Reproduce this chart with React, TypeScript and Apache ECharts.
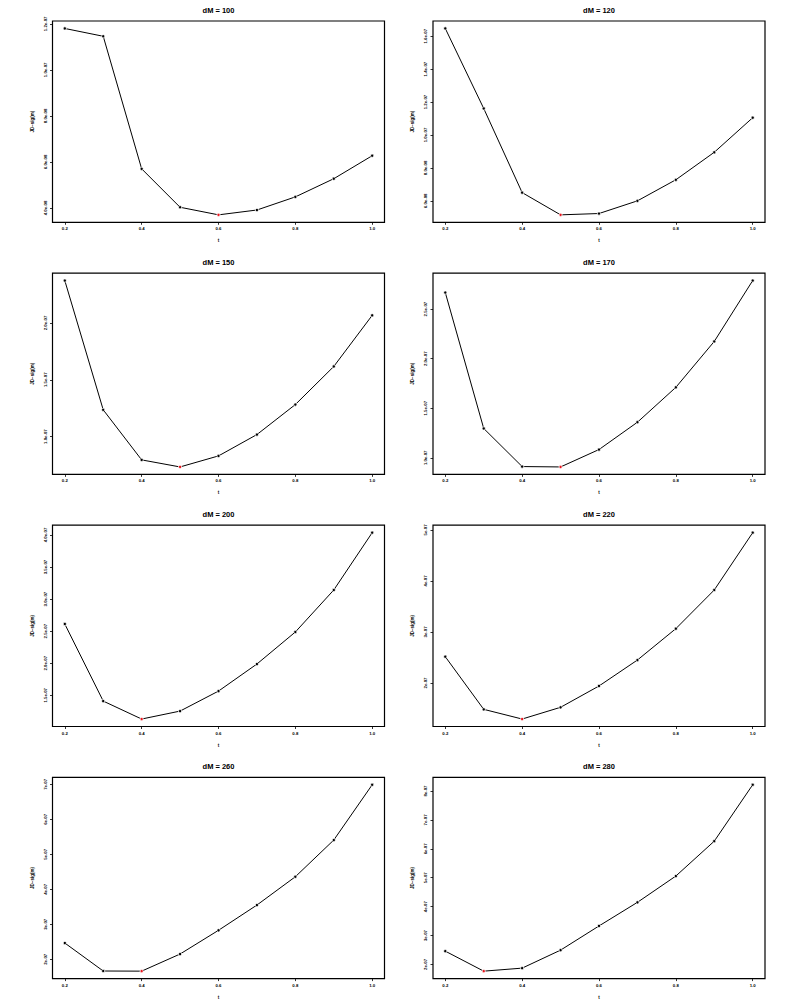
import React, { useEffect, useRef } from "react";
import * as echarts from "echarts";

// ---- data ----
const X_VALUES = [0.2, 0.3, 0.4, 0.5, 0.6, 0.7, 0.8, 0.9, 1.0];
const X_TICKS = [0.2, 0.4, 0.6, 0.8, 1.0];
const DM_VALUES = [100, 120, 150, 170, 200, 220, 260, 280];

const JD_100 = [1.18e-7, 1.146e-7, 5.70e-8, 4.03e-8, 3.70e-8, 3.91e-8, 4.48e-8, 5.27e-8, 6.27e-8];
const JD_120 = [1.647e-7, 1.161e-7, 6.50e-8, 5.15e-8, 5.23e-8, 6.0e-8, 7.28e-8, 8.95e-8, 1.105e-7];
const JD_150 = [2.373e-7, 1.2355e-7, 7.95e-8, 7.33e-8, 8.30e-8, 1.018e-7, 1.282e-7, 1.617e-7, 2.067e-7];
const JD_170 = [2.667e-7, 1.296e-7, 9.12e-8, 9.08e-8, 1.0835e-7, 1.359e-7, 1.711e-7, 2.174e-7, 2.788e-7];
const JD_200 = [2.612e-7, 1.41e-7, 1.13e-7, 1.254e-7, 1.566e-7, 1.988e-7, 2.487e-7, 3.142e-7, 4.036e-7];
const JD_220 = [2.515e-7, 1.483e-7, 1.293e-7, 1.523e-7, 1.941e-7, 2.45e-7, 3.065e-7, 3.823e-7, 4.947e-7];
const JD_260 = [2.466e-7, 1.666e-7, 1.662e-7, 2.151e-7, 2.829e-7, 3.551e-7, 4.36e-7, 5.409e-7, 6.989e-7];
const JD_280 = [2.46e-7, 1.768e-7, 1.872e-7, 2.495e-7, 3.332e-7, 4.149e-7, 5.059e-7, 6.266e-7, 8.218e-7];

const YT_100 = ["4.0e-08", "6.0e-08", "8.0e-08", "1.0e-07", "1.2e-07"];
const YT_120 = ["6.0e-08", "8.0e-08", "1.0e-07", "1.2e-07", "1.4e-07", "1.6e-07"];
const YT_150 = ["1.0e-07", "1.5e-07", "2.0e-07"];
const YT_170 = ["1.0e-07", "1.5e-07", "2.0e-07", "2.5e-07"];
const YT_200 = ["1.5e-07", "2.0e-07", "2.5e-07", "3.0e-07", "3.5e-07", "4.0e-07"];
const YT_220 = ["2e-07", "3e-07", "4e-07", "5e-07"];
const YT_260 = ["2e-07", "3e-07", "4e-07", "5e-07", "6e-07", "7e-07"];
const YT_280 = ["2e-07", "3e-07", "4e-07", "5e-07", "6e-07", "7e-07", "8e-07"];

const SERIES = [JD_100, JD_120, JD_150, JD_170, JD_200, JD_220, JD_260, JD_280];
const YTICKS = [YT_100, YT_120, YT_150, YT_170, YT_200, YT_220, YT_260, YT_280];

const Y_NAME = "JD\u2212sig(m)";
const X_NAME = "t";

export default function App() {
  const ref = useRef<HTMLDivElement>(null);
  useEffect(() => {
    if (!ref.current) return;
    const chart = echarts.init(ref.current, null, { renderer: "svg" });
    const FONT = "Liberation Sans";
    const colLeft = [52.5, 433];
    const boxW = 332;
    const boxH = 201.3;
    const rowTop = (r: number) => 21 + r * 252.1;

    const grids: any[] = [];
    const xAxes: any[] = [];
    const yAxes: any[] = [];
    const series: any[] = [];
    const titles: any[] = [];

    SERIES.forEach((ys, i) => {
      const col = i % 2;
      const row = Math.floor(i / 2);
      const left = colLeft[col];
      const top = rowTop(row);
      grids.push({
        left,
        top,
        width: boxW,
        height: boxH,
        show: true,
        borderColor: "#000",
        borderWidth: 1.2,
        backgroundColor: "transparent",
      });
      titles.push({
        text: `dM = ${DM_VALUES[i]}`,
        left: left + boxW / 2,
        top: top - 14.5,
        textAlign: "center",
        textStyle: { fontFamily: FONT, fontSize: 7.5, fontWeight: "bold", color: "#000", lineHeight: 8 },
        padding: 0,
      });
      xAxes.push({
        type: "value",
        gridIndex: i,
        min: (e: any) => e.min - 0.04 * (e.max - e.min),
        max: (e: any) => e.max + 0.04 * (e.max - e.min),
        name: X_NAME,
        nameLocation: "middle",
        nameGap: 16,
        nameTextStyle: { fontFamily: FONT, fontSize: 4.5, color: "#000", fontWeight: "bold" },
        axisLine: { show: false },
        splitLine: { show: false },
        axisTick: {
          show: true,
          length: 2.5,
          customValues: X_TICKS,
          lineStyle: { color: "#000", width: 0.8 },
        },
        axisLabel: {
          customValues: X_TICKS,
          margin: 4.5,
          fontFamily: FONT,
          fontSize: 4.3,
          fontWeight: "bold",
          color: "#000",
          formatter: (v: number) => v.toFixed(1),
        },
      });
      const labels = YTICKS[i];
      const tickVals = labels.map(Number);
      yAxes.push({
        type: "value",
        gridIndex: i,
        scale: true,
        min: (e: any) => e.min - 0.04 * (e.max - e.min),
        max: (e: any) => e.max + 0.04 * (e.max - e.min),
        name: Y_NAME,
        nameLocation: "middle",
        nameGap: 18,
        nameRotate: 90,
        nameTextStyle: { fontFamily: FONT, fontSize: 4.5, color: "#000", fontWeight: "bold" },
        axisLine: { show: false },
        splitLine: { show: false },
        axisTick: {
          show: true,
          length: 2.5,
          customValues: tickVals,
          lineStyle: { color: "#000", width: 0.8 },
        },
        axisLabel: {
          customValues: tickVals,
          rotate: 90,
          margin: 5.5,
          fontFamily: FONT,
          fontSize: 4.3,
          fontWeight: "bold",
          color: "#000",
          formatter: (v: number) => {
            const k = tickVals.findIndex((t) => Math.abs(t - v) < 1e-12);
            return k >= 0 ? labels[k] : "";
          },
        },
      });
      const minIdx = ys.indexOf(Math.min(...ys));
      series.push({
        type: "line",
        xAxisIndex: i,
        yAxisIndex: i,
        symbol: "circle",
        symbolSize: 3.2,
        showSymbol: true,
        lineStyle: { color: "#000", width: 1 },
        itemStyle: { color: "#000", borderColor: "#fff", borderWidth: 0.8 },
        data: X_VALUES.map((x, j) =>
          j === minIdx
            ? { value: [x, ys[j]], itemStyle: { color: "#e8141c", borderColor: "#fff", borderWidth: 0.8 } }
            : { value: [x, ys[j]] }
        ),
        z: 3,
      });
    });

    chart.setOption({
      animation: false,
      backgroundColor: "#fff",
      title: titles,
      grid: grids,
      xAxis: xAxes,
      yAxis: yAxes,
      series,
    });
    return () => chart.dispose();
  }, []);

  return (
    <div
      ref={ref}
      style={{ position: "absolute", left: 0, top: 0, width: 795, height: 1002 }}
    />
  );
}
